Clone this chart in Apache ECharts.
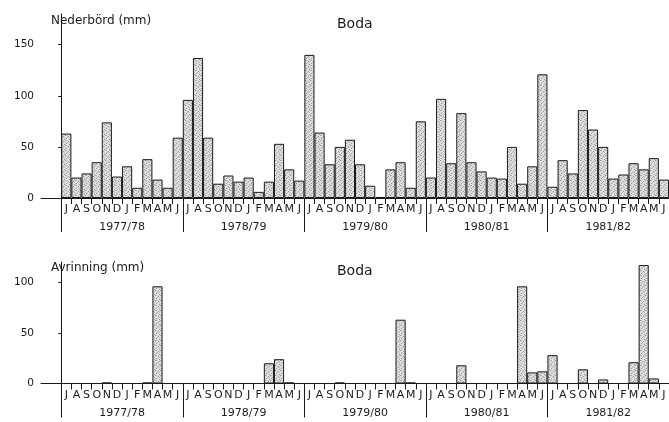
<!DOCTYPE html>
<html>
<head>
<meta charset="utf-8">
<script src="https://cdn.jsdelivr.net/npm/echarts@6/dist/echarts.min.js"></script>
<style>
html,body{margin:0;padding:0;background:#fff;}
#chart{width:669px;height:422px;}
</style>
</head>
<body>
<div id="chart"></div>
<script>
// Month letters of a hydrological year (July-June)
const months = ['J','A','S','O','N','D','J','F','M','A','M','J'];
const years = ['1977/78','1978/79','1979/80','1980/81','1981/82'];
const yTicksTop = [0, 50, 100, 150];
const yTicksBottom = [0, 50, 100];

// Nederbörd (mm), monthly
const precip7778 = [63, 20, 24, 35, 74, 21, 31, 10, 38, 18, 10, 59];
const precip7879 = [96, 137, 59, 14, 22, 16, 20, 6, 16, 53, 28, 17];
const precip7980 = [140, 64, 33, 50, 57, 33, 12, 1, 28, 35, 10, 75];
const precip8081 = [20, 97, 34, 83, 35, 26, 20, 19, 50, 14, 31, 121];
const precip8182 = [11, 37, 24, 86, 67, 50, 19, 23, 34, 28, 39, 18];

// Avrinning (mm), monthly
const runoff7778 = [0, 0, 0, 0, 1, 0, 0, 0, 1, 96, 0, 0];
const runoff7879 = [0, 0, 0, 0, 0, 0, 0, 0, 20, 24, 1, 0];
const runoff7980 = [0, 0, 0, 1, 0, 0, 0, 0, 0, 63, 1, 0];
const runoff8081 = [0, 0, 0, 18, 0, 0, 0, 0, 0, 96, 11, 12];
const runoff8182 = [28, 0, 0, 14, 0, 4, 0, 0, 21, 117, 5, 0];

const LEAD = 2; // empty slots between the y axis and July 1977
const cats = [];
for (let i = 0; i < LEAD; i++) cats.push('');
years.forEach(() => months.forEach(m => cats.push(m)));

const pad = new Array(LEAD).fill('-');
const precip = pad.concat(precip7778, precip7879, precip7980, precip8081, precip8182);
const runoff = pad.concat(runoff7778, runoff7879, runoff7980, runoff8081, runoff8182);

// stippled fill
const pc = document.createElement('canvas');
pc.width = 5; pc.height = 5;
const g = pc.getContext('2d');
g.fillStyle = '#dedede'; g.fillRect(0, 0, 5, 5);
g.fillStyle = '#9a9a9a';
[[0,0],[3,1],[1,3],[4,4]].forEach(p => g.fillRect(p[0], p[1], 1, 1));
g.fillStyle = '#bdbdbd';
[[2,2],[4,2],[1,0]].forEach(p => g.fillRect(p[0], p[1], 1, 1));
const stipple = {image: pc, repeat: 'repeat'};

const FONT = 'DejaVu Sans';
const INK = '#1a1a1a';
const yearTickVals = [0, 12, 24, 36, 48, 60];
const yearLabelVals = [6, 18, 30, 42, 54];

function monthAxis(gi) {
  return {
    type: 'category', gridIndex: gi, data: cats, position: 'bottom',
    boundaryGap: true,
    axisLine: {lineStyle: {color: INK, width: 1}},
    axisTick: {show: true, length: 6, interval: (i) => i >= LEAD, lineStyle: {color: INK}},
    axisLabel: {interval: 0, margin: 6, color: INK, fontFamily: FONT, fontSize: 11},
    splitLine: {show: false}
  };
}
function yearAxis(gi) {
  return {
    type: 'value', gridIndex: gi, position: 'bottom', min: -LEAD, max: 60,
    axisLine: {show: false},
    axisTick: {show: true, length: 34, customValues: yearTickVals, lineStyle: {color: INK}},
    axisLabel: {customValues: yearLabelVals, margin: 24, color: INK, fontFamily: FONT, fontSize: 11,
      formatter: v => years[Math.round((v - 6) / 12)]},
    splitLine: {show: false}
  };
}
function yAxis(gi, max, ticks) {
  return {
    type: 'value', gridIndex: gi, min: 0, max: max,
    axisLine: {show: true, lineStyle: {color: INK, width: 1}},
    axisTick: {show: true, length: 3, customValues: ticks, lineStyle: {color: INK}},
    axisLabel: {customValues: ticks, margin: 7, color: INK, fontFamily: FONT, fontSize: 10.5},
    splitLine: {show: false}
  };
}

const titleStyle = (size) => ({fontFamily: FONT, fontSize: size, fontWeight: 'normal', color: INK});

const chart = echarts.init(document.getElementById('chart'), null, {renderer: 'canvas'});
chart.setOption({
  animation: false,
  backgroundColor: '#fff',
  title: [
    {text: 'Nederbörd (mm)', left: 51, top: 15, padding: 0, textStyle: titleStyle(12)},
    {text: 'Boda', left: 337, top: 17, padding: 0, textStyle: titleStyle(14)},
    {text: 'Avrinning (mm)', left: 51, top: 262, padding: 0, textStyle: titleStyle(12)},
    {text: 'Boda', left: 337, top: 264, padding: 0, textStyle: titleStyle(14)}
  ],
  grid: [
    {left: 41, top: 14, width: 629, height: 184},
    {left: 41, top: 262, width: 629, height: 121.5}
  ],
  xAxis: [monthAxis(0), yearAxis(0), monthAxis(1), yearAxis(1)],
  yAxis: [yAxis(0, 180, yTicksTop), yAxis(1, 120, yTicksBottom)],
  series: [
    {type: 'bar', xAxisIndex: 0, yAxisIndex: 0, data: precip, barCategoryGap: '0%',
      itemStyle: {color: stipple, borderColor: INK, borderWidth: 1}},
    {type: 'bar', xAxisIndex: 2, yAxisIndex: 1, data: runoff, barCategoryGap: '0%',
      itemStyle: {color: stipple, borderColor: INK, borderWidth: 1}}
  ]
});
</script>
</body>
</html>
